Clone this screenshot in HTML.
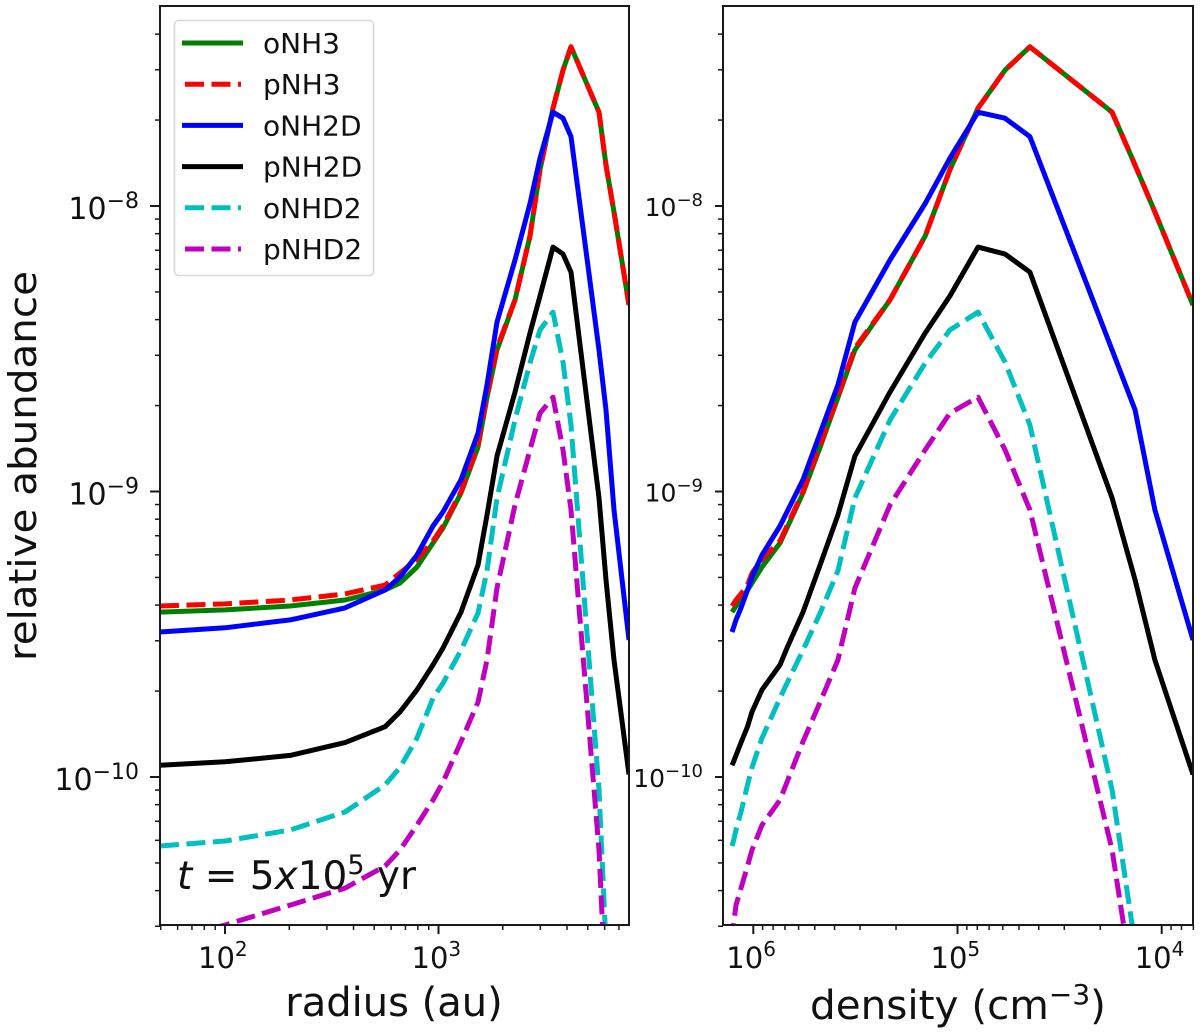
<!DOCTYPE html>
<html lang="en">
<head>
<meta charset="utf-8">
<title>Relative abundance vs radius and density</title>
<style>
html,body{margin:0;padding:0;background:#fff;width:1200px;height:1035px;overflow:hidden}
svg{display:block;overflow:hidden}
text{font-family:"DejaVu Sans","Liberation Sans",sans-serif;fill:#111}
</style>
</head>
<body>
<svg id="chart" xmlns="http://www.w3.org/2000/svg" width="1200" height="1035" viewBox="0 0 1200 1035">
  <defs>
    <clipPath id="clip-left"><rect x="160" y="6" width="469" height="919"/></clipPath>
    <clipPath id="clip-right"><rect x="723" y="6" width="470" height="919"/></clipPath>
  </defs>
  <g id="left-panel">
    <g id="left-series" clip-path="url(#clip-left)"></g>
    <g id="left-axes"></g>
  </g>
  <g id="right-panel">
    <g id="right-series" clip-path="url(#clip-right)"></g>
    <g id="right-axes"></g>
  </g>
  <text transform="translate(36,466) rotate(-90)" text-anchor="middle" font-size="38" textLength="390" lengthAdjust="spacingAndGlyphs">relative abundance</text>
  <text x="394" y="1016" text-anchor="middle" font-size="40">radius (au)</text>
  <text x="810" y="1019" font-size="40.5">density (cm<tspan font-size="28" dy="-15">−3</tspan><tspan dy="15">)</tspan></text>
  <text x="177" y="889" font-size="39"><tspan font-style="italic">t</tspan> = 5<tspan font-style="italic">x</tspan>10<tspan font-size="27" dy="-15">5</tspan><tspan dy="15"> yr</tspan></text>
  <g id="legend"></g>
</svg>
<script>
// Shared sampling grid
const radiusAu = [49.6, 100, 202, 365, 562, 660, 793, 942, 1050, 1275, 1531, 1687, 1879, 2282, 2683, 2988, 3438, 3830, 4175, 5645, 6087, 6637, 7802];
const densityCm3 = [1.271e6, 1.250e6, 1.215e6, 1.149e6, 1.068e6, 1.015e6, 9.07e5, 7.40e5, 6.84e5, 5.71e5, 4.71e5, 3.85e5, 3.18e5, 2.14e5, 1.44e5, 1.09e5, 7.94e4, 5.85e4, 4.42e4, 1.75e4, 1.35e4, 1.08e4, 7.03e3];

// Series values (relative abundance); null = far below the plotted range
const oNH3 = [3.78e-10, 3.85e-10, 3.97e-10, 4.17e-10, 4.52e-10, 4.78e-10, 5.44e-10, 6.60e-10, 7.45e-10, 9.88e-10, 1.43e-9, 2.13e-9, 3.13e-9, 4.69e-9, 7.85e-9, 1.34e-8, 2.20e-8, 2.99e-8, 3.61e-8, 2.13e-8, 1.39e-8, 9.53e-9, 4.50e-9];
const pNH3 = [3.97e-10, 4.04e-10, 4.17e-10, 4.38e-10, 4.70e-10, 5.18e-10, 5.80e-10, 6.71e-10, 7.57e-10, 1.00e-9, 1.46e-9, 2.16e-9, 3.18e-9, 4.69e-9, 7.85e-9, 1.34e-8, 2.20e-8, 2.99e-8, 3.61e-8, 2.13e-8, 1.39e-8, 9.53e-9, 4.50e-9];
const oNH2D = [3.22e-10, 3.33e-10, 3.55e-10, 3.91e-10, 4.52e-10, 5.02e-10, 5.99e-10, 7.57e-10, 8.48e-10, 1.10e-9, 1.60e-9, 2.36e-9, 3.92e-9, 6.47e-9, 1.02e-8, 1.47e-8, 2.13e-8, 2.03e-8, 1.75e-8, 3.13e-9, 1.93e-9, 8.62e-10, 3.02e-10];
const pNH2D = [1.10e-10, 1.13e-10, 1.19e-10, 1.32e-10, 1.50e-10, 1.69e-10, 2.02e-10, 2.47e-10, 2.83e-10, 3.78e-10, 5.53e-10, 8.27e-10, 1.33e-9, 2.23e-9, 3.59e-9, 4.84e-9, 7.18e-9, 6.79e-9, 5.87e-9, 9.49e-10, 4.90e-10, 2.57e-10, 1.02e-10];
const oNHD2 = [5.73e-11, 5.97e-11, 6.52e-11, 7.54e-11, 9.38e-11, 1.08e-10, 1.37e-10, 1.89e-10, 2.13e-10, 2.78e-10, 3.75e-10, 5.27e-10, 9.49e-10, 1.78e-9, 2.82e-9, 3.68e-9, 4.25e-9, 2.84e-9, 1.71e-9, 9.01e-11, 2.58e-11, null, null];
const pNHD2 = [2.64e-11, 3.03e-11, 3.56e-11, 4.08e-11, 4.88e-11, 5.55e-11, 6.79e-11, 8.31e-11, 9.60e-11, 1.33e-10, 1.83e-10, 2.57e-10, 4.59e-10, 8.97e-10, 1.40e-9, 1.88e-9, 2.14e-9, 1.40e-9, 8.62e-10, 5.55e-11, 1.66e-11, null, null];

// Tick values
const yMajorExponents = [-8, -9, -10];
const yMinorTicks = [4e-8, 3e-8, 2e-8, 9e-9, 8e-9, 7e-9, 6e-9, 5e-9, 4e-9, 3e-9, 2e-9, 9e-10, 8e-10, 7e-10, 6e-10, 5e-10, 4e-10, 3e-10, 2e-10, 9e-11, 8e-11, 7e-11, 6e-11, 5e-11, 4e-11, 3e-11];
const radiusMajorExponents = [2, 3];
const radiusMinorTicks = [50, 60, 70, 80, 90, 200, 300, 400, 500, 600, 700, 800, 900, 2000, 3000, 4000, 5000, 6000, 7000];
const densityMajorExponents = [6, 5, 4];
const densityMinorTicks = [9e5, 8e5, 7e5, 6e5, 5e5, 4e5, 3e5, 2e5, 9e4, 8e4, 7e4, 6e4, 5e4, 4e4, 3e4, 2e4, 9e3, 8e3, 7e3];

const SVG_NS = 'http://www.w3.org/2000/svg';
const FRAME_TOP = 6, FRAME_BOTTOM = 925;
const LEFT_X0 = 160, LEFT_X1 = 629, RIGHT_X0 = 723, RIGHT_X1 = 1193;

// Axis functions
function yAxis(v) { return 206 + 285.5 * (-8 - Math.log10(v)); }
function radiusAxis(r) { return 225 + 213.5 * (Math.log10(r) - 2); }
function densityAxis(n) { return 753.3 + 204.2 * (6 - Math.log10(n)); }

function make(tag, parent, attrs) {
  const node = document.createElementNS(SVG_NS, tag);
  for (const key in attrs) node.setAttribute(key, attrs[key]);
  parent.appendChild(node);
  return node;
}

const seriesStyles = [
  { label: 'oNH3', values: oNH3, color: '#008000', dash: '' },
  { label: 'pNH3', values: pNH3, color: '#ff0000', dash: '19 7.5' },
  { label: 'oNH2D', values: oNH2D, color: '#0000ff', dash: '' },
  { label: 'pNH2D', values: pNH2D, color: '#000000', dash: '' },
  { label: 'oNHD2', values: oNHD2, color: '#00bfbf', dash: '19 7.5' },
  { label: 'pNHD2', values: pNHD2, color: '#bf00bf', dash: '19 7.5' }
];

function drawSeries(groupId, xs, xAxis, prefix) {
  const group = document.getElementById(groupId);
  seriesStyles.forEach(function (s) {
    const pts = [];
    s.values.forEach(function (v, i) {
      if (v !== null) pts.push(xAxis(xs[i]).toFixed(1) + ',' + yAxis(v).toFixed(1));
    });
    const line = make('polyline', group, {
      points: pts.join(' '), fill: 'none', stroke: s.color, 'stroke-width': 5,
      'stroke-linejoin': 'round', 'stroke-dasharray': s.dash || 'none'
    });
    
    
  });
}

function powerLabel(parent, x, y, exponent, size, supSize, supDy, anchor) {
  const t = make('text', parent, { x: x, y: y, 'font-size': size, 'text-anchor': anchor });
  t.appendChild(document.createTextNode('10'));
  const sup = make('tspan', t, { 'font-size': supSize, dy: -supDy });
  sup.textContent = String(exponent).replace('-', '\u2212');
  
  
  return t;
}

function tickLine(parent, x1, y1, x2, y2, width, kind) {
  const l = make('line', parent, { x1: x1, y1: y1, x2: x2, y2: y2, stroke: '#1a1a1a', 'stroke-width': width });
  
  
}

function drawAxes(groupId, x0, x1, xAxis, xMajor, xMinor, yLabel) {
  const g = document.getElementById(groupId);
  const frame = make('rect', g, {
    x: x0, y: FRAME_TOP, width: x1 - x0, height: FRAME_BOTTOM - FRAME_TOP,
    fill: 'none', stroke: '#1a1a1a', 'stroke-width': 2
  });
  
  

  yMajorExponents.forEach(function (e) {
    const y = yAxis(Math.pow(10, e));
    tickLine(g, x0 - yLabel.tick, y, x0, y, 2, 'y-major-tick');
    powerLabel(g, x0 - yLabel.gap, y + yLabel.dy, e, yLabel.size, yLabel.supSize, yLabel.supDy, 'end');
  });
  yMinorTicks.forEach(function (v) {
    const y = yAxis(v);
    tickLine(g, x0 - 5, y, x0, y, 1.5, 'y-minor-tick');
  });
  xMajor.forEach(function (e) {
    const x = xAxis(Math.pow(10, e));
    tickLine(g, x, FRAME_BOTTOM, x, FRAME_BOTTOM + 9, 2, 'x-major-tick');
    powerLabel(g, x - 27, 968, e, 29, 20, 12, 'start');
  });
  xMinor.forEach(function (v) {
    const x = xAxis(v);
    tickLine(g, x, FRAME_BOTTOM, x, FRAME_BOTTOM + 5, 1.5, 'x-minor-tick');
  });
}

function drawLegend() {
  const g = document.getElementById('legend');
  const box = make('rect', g, {
    x: 174.5, y: 20.5, width: 199, height: 255, rx: 4,
    fill: '#fff', 'fill-opacity': 0.9, stroke: '#d8d8d8', 'stroke-width': 1.6
  });
  
  
  seriesStyles.forEach(function (s, i) {
    const y = 43 + i * 41.2;
    const swatch = make('line', g, {
      x1: s.dash ? 185 : 182, x2: s.dash ? 241 : 243, y1: y, y2: y,
      stroke: s.color, 'stroke-width': 5, 'stroke-dasharray': s.dash || 'none'
    });
    
    
    const label = make('text', g, { x: 263, y: y + 10, 'font-size': 28 });
    label.textContent = s.label;
    
    
  });
}

drawSeries('left-series', radiusAu, radiusAxis, 'radius');
drawSeries('right-series', densityCm3, densityAxis, 'density');
drawAxes('left-axes', LEFT_X0, LEFT_X1, radiusAxis, radiusMajorExponents, radiusMinorTicks,
  { size: 30, supSize: 22, supDy: 11, gap: 21, dy: 13, tick: 10 });
drawAxes('right-axes', RIGHT_X0, RIGHT_X1, densityAxis, densityMajorExponents, densityMinorTicks,
  { size: 25, supSize: 18, supDy: 10, gap: 20, dy: 10, tick: 8 });
drawLegend();
</script>
</body>
</html>
